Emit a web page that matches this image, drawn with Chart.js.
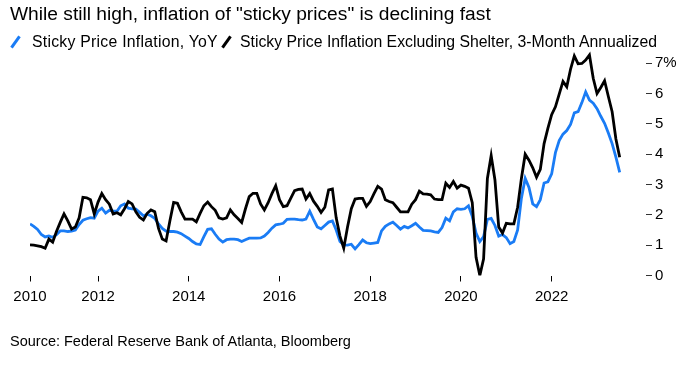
<!DOCTYPE html>
<html>
<head>
<meta charset="utf-8">
<script src="https://cdn.jsdelivr.net/npm/chart.js@4/dist/chart.umd.min.js"></script>
<style>
  body { margin: 0; background: #fff; font-family: "Liberation Sans", Arial, sans-serif; color: #000; }
  #wrap { position: relative; width: 679px; height: 365px; overflow: hidden; }
  canvas { position: absolute; left: 0; top: 0; }
  .txt { position: absolute; white-space: nowrap; line-height: 20px; }
  #title { left: 10px; top: 4px; font-size: 19.2px; }
  .leg { top: 32px; font-size: 15.8px; }
  .slash { position: absolute; top: 35px; width: 3px; height: 14px; transform: rotate(35deg); }
  #source { left: 10px; top: 331px; font-size: 14.5px; }
</style>
</head>
<body>
<div id="wrap">
  <canvas id="chart" width="679" height="365"></canvas>
  <div class="txt" id="title">While still high, inflation of "sticky prices" is declining fast</div>
  <div class="slash" style="left:14px;background:#1a7cf5"></div>
  <div class="txt leg" style="left:32px;letter-spacing:0.25px">Sticky Price Inflation, YoY</div>
  <div class="slash" style="left:225px;background:#000"></div>
  <div class="txt leg" style="left:240px">Sticky Price Inflation Excluding Shelter, 3-Month Annualized</div>
  <div class="txt" id="source">Source: Federal Reserve Bank of Atlanta, Bloomberg</div>
</div>
<script>
// Monthly data, Jul 2010 .. Jul 2023
const startYear = 2010.5;

const stickyYoY = [
  1.70, 1.62, 1.52, 1.35, 1.27, 1.30, 1.26, 1.35, 1.47, 1.47, 1.45, 1.46,
  1.50, 1.68, 1.82, 1.87, 1.91, 1.89, 2.12, 2.22, 2.06, 2.15, 2.13, 2.12,
  2.30, 2.36, 2.22, 2.20, 2.19, 2.08, 1.97, 2.02, 1.97, 1.88, 1.70, 1.55,
  1.46, 1.45, 1.45, 1.43, 1.38, 1.30, 1.22, 1.12, 1.04, 1.02, 1.28, 1.52,
  1.54, 1.36, 1.20, 1.10, 1.18, 1.20, 1.20, 1.18, 1.12, 1.18, 1.23, 1.23,
  1.23, 1.24, 1.30, 1.42, 1.56, 1.67, 1.69, 1.72, 1.85, 1.86, 1.86, 1.84,
  1.83, 1.86, 2.12, 1.85, 1.60, 1.54, 1.65, 1.76, 1.80, 1.50, 1.12, 1.01,
  1.00, 1.03, 0.88, 1.02, 1.17, 1.08, 1.05, 1.07, 1.09, 1.47, 1.62, 1.70,
  1.76, 1.65, 1.53, 1.62, 1.57, 1.64, 1.72, 1.60, 1.49, 1.48, 1.47, 1.44,
  1.42, 1.58, 1.89, 1.80, 2.10, 2.20, 2.18, 2.20, 2.30, 1.95, 1.40, 1.12,
  1.28, 1.85, 1.88, 1.65, 1.30, 1.35, 1.25, 1.05, 1.12, 1.50, 2.55, 3.20,
  2.90, 2.36, 2.27, 2.50, 3.05, 3.09, 3.35, 4.05, 4.45, 4.66, 4.78, 4.98,
  5.36, 5.40, 5.70, 6.05, 5.78, 5.68, 5.50, 5.25, 5.02, 4.70, 4.35, 3.90,
  3.40
];

const stickyExShelter3m = [
  1.01, 1.00, 0.98, 0.95, 0.90, 1.20, 1.10, 1.45, 1.75, 2.03, 1.80, 1.53,
  1.60, 1.90, 2.58, 2.56, 2.50, 2.03, 2.42, 2.70, 2.50, 2.35, 2.03, 2.07,
  2.00, 2.20, 2.44, 2.36, 2.10, 1.92, 1.83, 2.05, 2.16, 2.10, 1.55, 1.20,
  1.14, 1.80, 2.41, 2.38, 2.10, 1.86, 1.86, 1.86, 1.77, 2.05, 2.30, 2.42,
  2.27, 2.15, 1.90, 1.86, 1.90, 2.16, 2.00, 1.88, 1.75, 2.20, 2.60, 2.71,
  2.71, 2.36, 2.16, 2.40, 2.70, 2.96, 2.50, 2.27, 2.30, 2.55, 2.80, 2.84,
  2.85, 2.52, 2.70, 2.45, 2.28, 2.08, 2.25, 2.82, 2.85, 1.90, 1.30, 0.90,
  1.60, 2.20, 2.52, 2.54, 2.54, 2.28, 2.44, 2.70, 2.94, 2.85, 2.50, 2.44,
  2.40, 2.25, 2.10, 2.10, 2.10, 2.35, 2.50, 2.78, 2.69, 2.68, 2.66, 2.52,
  2.50, 2.50, 3.04, 2.90, 3.10, 2.88, 2.98, 2.94, 2.88, 2.40, 0.60, 0.00,
  0.55, 3.20, 3.95, 3.15, 1.60, 1.40, 1.72, 1.70, 1.70, 2.25, 3.20, 4.00,
  3.80, 3.55, 3.24, 3.50, 4.35, 4.85, 5.30, 5.56, 5.98, 6.40, 6.22, 6.80,
  7.24, 6.98, 6.99, 7.10, 7.27, 6.50, 6.00, 6.20, 6.42, 5.90, 5.40, 4.50,
  3.90
];

const xTickValues = [2010.5, 2012, 2014, 2016, 2018, 2020, 2022];
const xTickLabels = ['2010', '2012', '2014', '2016', '2018', '2020', '2022'];
const yTickValues = [0, 1, 2, 3, 4, 5, 6, 7];

const toPoints = arr => arr.map((v, i) => ({ x: startYear + i / 12, y: v }));

const fontTicks = { family: '"Liberation Sans", Arial, sans-serif', size: 15 };

new Chart(document.getElementById('chart').getContext('2d'), {
  type: 'line',
  data: {
    datasets: [
      {
        label: 'Sticky Price Inflation Excluding Shelter, 3-Month Annualized',
        data: toPoints(stickyExShelter3m),
        borderColor: '#000000',
        borderWidth: 2.8,
        pointRadius: 0,
        tension: 0
      },
      {
        label: 'Sticky Price Inflation, YoY',
        data: toPoints(stickyYoY),
        borderColor: '#1a7cf5',
        borderWidth: 2.8,
        pointRadius: 0,
        tension: 0
      }
    ]
  },
  options: {
    responsive: false,
    animation: false,
    layout: { padding: { left: 30, top: 48, right: 0, bottom: 52.5 } },
    plugins: { legend: { display: false }, tooltip: { enabled: false } },
    scales: {
      x: {
        type: 'linear',
        min: 2010.5,
        max: 2024.08,
        afterBuildTicks: s => { s.ticks = xTickValues.map(v => ({ value: v })); },
        ticks: {
          autoSkip: false,
          maxRotation: 0,
          padding: 6.5,
          color: '#000',
          font: fontTicks,
          callback: (v) => xTickLabels[xTickValues.indexOf(v)]
        },
        grid: { drawOnChartArea: false, drawTicks: true, tickLength: 6, color: '#000', tickWidth: 1 },
        border: { display: false }
      },
      y: {
        position: 'right',
        min: 0,
        max: 7.5,
        afterBuildTicks: s => { s.ticks = yTickValues.map(v => ({ value: v })); },
        afterFit: s => { s.width = 33; },
        ticks: {
          padding: 3,
          color: '#000',
          font: fontTicks,
          callback: v => v === 7 ? '7%' : String(v)
        },
        grid: { drawOnChartArea: false, drawTicks: true, tickLength: 6, color: '#333', tickWidth: 1 },
        border: { display: false }
      }
    }
  }
});
</script>
</body>
</html>
